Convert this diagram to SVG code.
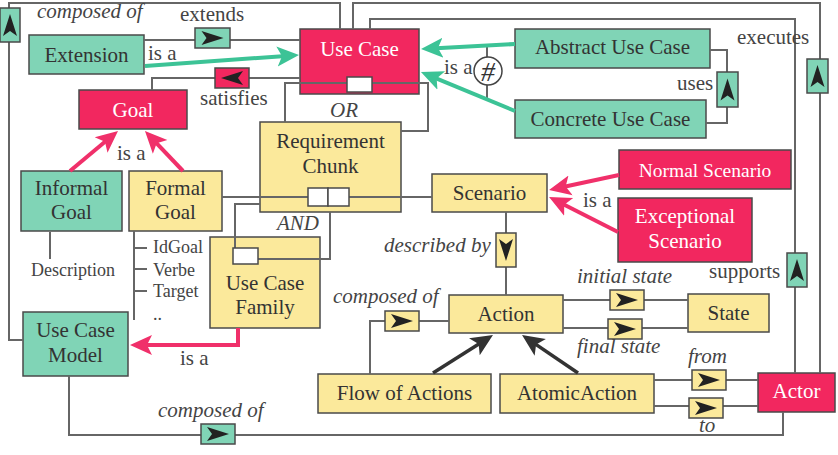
<svg xmlns="http://www.w3.org/2000/svg" width="838" height="455" viewBox="0 0 838 455">
<defs>
<path id="ah" d="M11 0 L-11 -7 L-6 0 L-11 7 Z" fill="#222"/>
<marker id="mg" markerUnits="userSpaceOnUse" markerWidth="26" markerHeight="24" refX="16" refY="12" orient="auto" viewBox="0 0 26 24"><path d="M22 12 L0 2 L5 12 L0 22 Z" fill="#3cc396"/></marker>
<marker id="mp" markerUnits="userSpaceOnUse" markerWidth="26" markerHeight="24" refX="16" refY="12" orient="auto" viewBox="0 0 26 24"><path d="M22 12 L0 2 L5 12 L0 22 Z" fill="#f0306a"/></marker>
<marker id="mk" markerUnits="userSpaceOnUse" markerWidth="26" markerHeight="24" refX="16" refY="12" orient="auto" viewBox="0 0 26 24"><path d="M22 12 L0 2 L5 12 L0 22 Z" fill="#333"/></marker>
</defs>
<rect width="838" height="455" fill="#fff"/>

<g id="extension"><rect fill="#80d4b6" stroke="#4a4a4a" stroke-width="1.5" x="29" y="35" width="115" height="39"/><text font-family="Liberation Serif" font-size="21" text-anchor="middle" fill="#333" x="86.5" y="62">Extension</text></g>
<g id="usecase"><rect fill="#f2275f" stroke="#4a4a4a" stroke-width="1.5" x="300" y="29" width="119" height="65"/><text font-family="Liberation Serif" font-size="21" text-anchor="middle" fill="#fff" x="359.5" y="56">Use Case</text></g>
<g id="goal"><rect fill="#f2275f" stroke="#4a4a4a" stroke-width="1.5" x="79" y="90" width="108" height="39"/><text font-family="Liberation Serif" font-size="21" text-anchor="middle" fill="#fff" x="133" y="117">Goal</text></g>
<g id="abstract"><rect fill="#80d4b6" stroke="#4a4a4a" stroke-width="1.5" x="515" y="29" width="195" height="39"/><text font-family="Liberation Serif" font-size="21" text-anchor="middle" fill="#333" x="612.5" y="54">Abstract Use Case</text></g>
<g id="concrete"><rect fill="#80d4b6" stroke="#4a4a4a" stroke-width="1.5" x="515" y="100" width="191" height="38"/><text font-family="Liberation Serif" font-size="21" text-anchor="middle" fill="#333" x="610.5" y="126">Concrete Use Case</text></g>
<g id="reqchunk"><rect fill="#fbe99b" stroke="#4a4a4a" stroke-width="1.5" x="260" y="122" width="141" height="90"/><text font-family="Liberation Serif" font-size="21" text-anchor="middle" fill="#333" x="330.5" y="148">Requirement</text><text font-family="Liberation Serif" font-size="21" text-anchor="middle" fill="#333" x="330.5" y="173">Chunk</text></g>
<g id="informal"><rect fill="#80d4b6" stroke="#4a4a4a" stroke-width="1.5" x="21" y="171" width="101" height="60"/><text font-family="Liberation Serif" font-size="21" text-anchor="middle" fill="#333" x="71.5" y="195">Informal</text><text font-family="Liberation Serif" font-size="21" text-anchor="middle" fill="#333" x="71.5" y="219">Goal</text></g>
<g id="formal"><rect fill="#fbe99b" stroke="#4a4a4a" stroke-width="1.5" x="129" y="171" width="93" height="60"/><text font-family="Liberation Serif" font-size="21" text-anchor="middle" fill="#333" x="175.5" y="195">Formal</text><text font-family="Liberation Serif" font-size="21" text-anchor="middle" fill="#333" x="175.5" y="219">Goal</text></g>
<g id="scenario"><rect fill="#fbe99b" stroke="#4a4a4a" stroke-width="1.5" x="432" y="174" width="115" height="38"/><text font-family="Liberation Serif" font-size="21" text-anchor="middle" fill="#333" x="489.5" y="200">Scenario</text></g>
<g id="normal"><rect fill="#f2275f" stroke="#4a4a4a" stroke-width="1.5" x="619" y="150" width="172" height="39"/><text font-family="Liberation Serif" font-size="19.5" text-anchor="middle" fill="#fff" x="705" y="177">Normal Scenario</text></g>
<g id="exceptional"><rect fill="#f2275f" stroke="#4a4a4a" stroke-width="1.5" x="618" y="198" width="134" height="64"/><text font-family="Liberation Serif" font-size="21" text-anchor="middle" fill="#fff" x="685" y="223">Exceptional</text><text font-family="Liberation Serif" font-size="21" text-anchor="middle" fill="#fff" x="685" y="248">Scenario</text></g>
<g id="family"><rect fill="#fbe99b" stroke="#4a4a4a" stroke-width="1.5" x="210" y="237" width="110" height="91"/><text font-family="Liberation Serif" font-size="21" text-anchor="middle" fill="#333" x="265" y="290">Use Case</text><text font-family="Liberation Serif" font-size="21" text-anchor="middle" fill="#333" x="265" y="314">Family</text></g>
<g id="model"><rect fill="#80d4b6" stroke="#4a4a4a" stroke-width="1.5" x="23" y="312" width="105" height="64"/><text font-family="Liberation Serif" font-size="21" text-anchor="middle" fill="#333" x="75.5" y="337">Use Case</text><text font-family="Liberation Serif" font-size="21" text-anchor="middle" fill="#333" x="75.5" y="362">Model</text></g>
<g id="action"><rect fill="#fbe99b" stroke="#4a4a4a" stroke-width="1.5" x="449" y="295" width="114" height="38"/><text font-family="Liberation Serif" font-size="21" text-anchor="middle" fill="#333" x="506" y="321">Action</text></g>
<g id="state"><rect fill="#fbe99b" stroke="#4a4a4a" stroke-width="1.5" x="688" y="294" width="81" height="38"/><text font-family="Liberation Serif" font-size="21" text-anchor="middle" fill="#333" x="728.5" y="320">State</text></g>
<g id="flow"><rect fill="#fbe99b" stroke="#4a4a4a" stroke-width="1.5" x="318" y="374" width="173" height="39"/><text font-family="Liberation Serif" font-size="21" text-anchor="middle" fill="#333" x="404.5" y="400">Flow of Actions</text></g>
<g id="atomic"><rect fill="#fbe99b" stroke="#4a4a4a" stroke-width="1.5" x="500" y="374" width="154" height="39"/><text font-family="Liberation Serif" font-size="21" text-anchor="middle" fill="#333" x="577" y="400">AtomicAction</text></g>
<g id="actor"><rect fill="#f2275f" stroke="#4a4a4a" stroke-width="1.5" x="758" y="373" width="77" height="39"/><text font-family="Liberation Serif" font-size="21" text-anchor="middle" fill="#fff" x="796.5" y="398">Actor</text></g>

<g id="connectors">
<g fill="none" stroke="#666" stroke-width="2">
<path d="M23 340 H9 V3 H340 V29"/>
<path d="M353 29 V3 H820 V373"/>
<path d="M370 29 V19 H795 V373"/>
<path d="M144 40 H300"/>
<path d="M152 90 V78 H300"/>
<path d="M710 50 H727 V123 H706"/>
<path d="M285 122 V83 H428 V131 H401"/>
<path d="M222 197 H432"/>
<path d="M235 248 V204 H260"/>
<path d="M258 259 H330 V212"/>
<path d="M50 232 V259"/>
<path d="M134 231 V320 M134 248 H147 M134 269 H147 M134 291 H147"/>
<path d="M506 212 V295"/>
<path d="M370 374 V321 H449"/>
<path d="M563 300 H688"/>
<path d="M563 328 H688"/>
<path d="M654 380 H758"/>
<path d="M654 406 H758"/>
<path d="M69 376 V435 H783 V412"/>
<path d="M487 45 V100"/>
</g>
<g fill="none" stroke="#3cc396" stroke-width="4">
<path d="M145 66 L293 55.4" marker-end="url(#mg)"/>
<path d="M515 44 L427 48.7" marker-end="url(#mg)"/>
<path d="M515 111 L426.5 74.3" marker-end="url(#mg)"/>
</g>
<g fill="none" stroke="#f0306a" stroke-width="4">
<path d="M70 171 L113.4 134.8" marker-end="url(#mp)"/>
<path d="M183 171 L149.1 135.3" marker-end="url(#mp)"/>
<path d="M619 175 L554.9 188.7" marker-end="url(#mp)"/>
<path d="M618 232 L554.4 199.7" marker-end="url(#mp)"/>
<path d="M238 328 V345 H136" marker-end="url(#mp)"/>
</g>
<g fill="none" stroke="#333" stroke-width="3.5">
<path d="M433 373 L487.9 338.2" marker-end="url(#mk)"/>
<path d="M578 373 L527 338.4" marker-end="url(#mk)"/>
</g>

<circle cx="488" cy="71" r="14" fill="#fff" stroke="#444" stroke-width="1.5"/>
<text x="488" y="81" font-family="Liberation Serif" font-size="28" font-style="italic" text-anchor="middle" fill="#333">#</text>

<g fill="#fff" stroke="#4a4a4a" stroke-width="1.5">
<rect x="347" y="77" width="25" height="15"/>
<rect x="308" y="188" width="20" height="18"/>
<rect x="328" y="188" width="21" height="18"/>
<rect x="233" y="248" width="25" height="16"/>
</g>

<g stroke="#4a4a4a" stroke-width="1.5">
<rect fill="#80d4b6" x="0" y="8" width="20" height="34"/>
<rect fill="#80d4b6" x="195" y="28" width="35" height="20"/>
<rect fill="#f2275f" x="215" y="68" width="34" height="20"/>
<rect fill="#80d4b6" x="717" y="72" width="21" height="35"/>
<rect fill="#80d4b6" x="807" y="59" width="21" height="34"/>
<rect fill="#80d4b6" x="787" y="253" width="20" height="34"/>
<rect fill="#fbe99b" x="496" y="233" width="20" height="34"/>
<rect fill="#fbe99b" x="385" y="311" width="34" height="20"/>
<rect fill="#fbe99b" x="610" y="290" width="34" height="20"/>
<rect fill="#fbe99b" x="608" y="319" width="34" height="20"/>
<rect fill="#fbe99b" x="692" y="370" width="34" height="20"/>
<rect fill="#fbe99b" x="689" y="398" width="34" height="20"/>
<rect fill="#80d4b6" x="201" y="424" width="34" height="20"/>
</g>
<use href="#ah" transform="translate(10 25) rotate(-90)"/>
<use href="#ah" transform="translate(212.5 38)"/>
<use href="#ah" transform="translate(232 78) rotate(180)"/>
<use href="#ah" transform="translate(727.5 89.5) rotate(-90)"/>
<use href="#ah" transform="translate(817.5 76) rotate(-90)"/>
<use href="#ah" transform="translate(797 270) rotate(-90)"/>
<use href="#ah" transform="translate(506 250) rotate(90)"/>
<use href="#ah" transform="translate(402 321)"/>
<use href="#ah" transform="translate(627 300)"/>
<use href="#ah" transform="translate(625 329)"/>
<use href="#ah" transform="translate(709 380)"/>
<use href="#ah" transform="translate(706 408)"/>
<use href="#ah" transform="translate(218 434)"/>
</g>

<g id="labels" fill="#444">
<text font-family="Liberation Serif" font-size="21" font-style="italic" x="37" y="18">composed of</text>
<text font-family="Liberation Serif" font-size="21" x="180" y="21">extends</text>
<text font-family="Liberation Serif" font-size="21" x="148" y="60">is a</text>
<text font-family="Liberation Serif" font-size="21" x="200" y="105">satisfies</text>
<text font-family="Liberation Serif" font-size="21" x="117" y="160">is a</text>
<text font-family="Liberation Serif" font-size="21" x="737" y="44">executes</text>
<text font-family="Liberation Serif" font-size="21" x="677" y="90">uses</text>
<text font-family="Liberation Serif" font-size="21" x="444" y="74">is a</text>
<text font-family="Liberation Serif" font-size="21" font-style="italic" x="330" y="117">OR</text>
<text font-family="Liberation Serif" font-size="18" x="31" y="276">Description</text>
<text font-family="Liberation Serif" font-size="18" x="153" y="253">IdGoal</text>
<text font-family="Liberation Serif" font-size="18" x="153" y="276">Verbe</text>
<text font-family="Liberation Serif" font-size="18" x="153" y="297">Target</text>
<text font-family="Liberation Serif" font-size="18" x="153" y="320">..</text>
<text font-family="Liberation Serif" font-size="21" font-style="italic" x="277" y="230">AND</text>
<text font-family="Liberation Serif" font-size="21" font-style="italic" x="384" y="252">described by</text>
<text font-family="Liberation Serif" font-size="21" x="583" y="207">is a</text>
<text font-family="Liberation Serif" font-size="21" font-style="italic" x="577" y="283">initial state</text>
<text font-family="Liberation Serif" font-size="21" x="709" y="278">supports</text>
<text font-family="Liberation Serif" font-size="21" font-style="italic" x="333" y="303">composed of</text>
<text font-family="Liberation Serif" font-size="21" font-style="italic" x="577" y="353">final state</text>
<text font-family="Liberation Serif" font-size="21" font-style="italic" x="688" y="363">from</text>
<text font-family="Liberation Serif" font-size="21" x="180" y="365">is a</text>
<text font-family="Liberation Serif" font-size="21" font-style="italic" x="158" y="417">composed of</text>
<text font-family="Liberation Serif" font-size="21" font-style="italic" x="699" y="432">to</text>
</g>
</svg>
